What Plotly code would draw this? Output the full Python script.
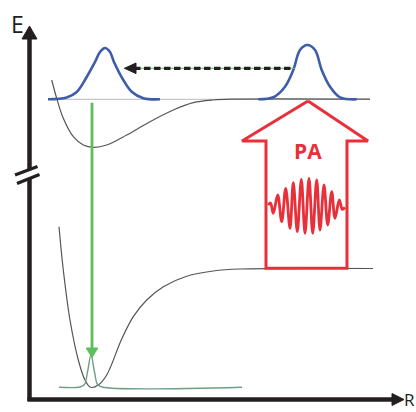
import plotly.graph_objects as go

# ---- data (pixel-space schematic coordinates) ----
upper_pot_x = [51.7, 56.7, 63.3, 73.3, 83.3, 93.3, 106.7, 126.7, 150, 173.3, 193.3, 213.3, 230, 370]
upper_pot_y = [80, 98.3, 118.3, 136.7, 145, 147.3, 145, 135, 121.7, 110, 102.7, 100, 99.2, 99.2]

lower_pot_x = [59, 63.3, 70, 78.3, 85, 90.7, 98.3, 106.7, 121.7, 133.3, 146.7, 163.3, 186.7, 213.3, 240, 373]
lower_pot_y = [226.7, 270, 320, 360, 380, 387.3, 385, 375, 339, 316.7, 300, 286.7, 276.2, 271, 269, 268.5]

upper_level_x = [48, 370]
upper_level_y = [99.3, 99.3]

blue_left_x = [48, 66.7, 76.7, 86.7, 95, 100, 105, 110, 114, 123.3, 131.7, 143.3, 160]
blue_left_y = [99.3, 97.5, 92, 77, 62, 52, 48, 52, 62, 80, 91.7, 98.2, 99.3]

blue_right_x = [258.3, 273.3, 285, 293.3, 300, 307.3, 315, 321.7, 330, 340, 356.7]
blue_right_y = [99.3, 97.3, 86.7, 70, 50, 45, 50, 70, 86.7, 97.3, 99.3]

ground_x = [59, 80, 84.5, 87.5, 91, 94.5, 97.5, 102, 242]
ground_y = [387.2, 387, 384.5, 372, 355, 372, 384.5, 387, 387.2]

wave_x = [268, 270.5, 273.3, 277.7, 281.7, 285.7, 290, 293.3, 297.3, 301.3, 305, 309,
          312.7, 316.7, 320, 324, 327.7, 331.7, 335, 339.3, 342.3, 345]
wave_y = [205, 203, 213.3, 195, 221.7, 188.3, 228.3, 182.7, 231.7, 179.3, 233.3, 178.3,
          233.3, 180, 230, 185, 225, 191.7, 218.3, 200, 209.3, 207.3]

pa_arrow_x = [308, 368, 347, 347, 266, 266, 242, 308]
pa_arrow_y = [101, 141, 141, 268.3, 268.3, 141, 141, 101]

dash_x = [134, 293]
dash_y = [68.3, 68.3]
dash_head_x = [124.5, 136, 136, 124.5]
dash_head_y = [68.3, 63, 73.6, 68.3]

green_x = [92, 92]
green_y = [102.7, 350]
green_head_x = [86.2, 97.8, 92, 86.2]
green_head_y = [348, 348, 357.5, 348]

yaxis_top_x = [29.5, 29.5]
yaxis_top_y = [37, 170]
yaxis_bot_x = [29.5, 29.5]
yaxis_bot_y = [178, 401]
yhead_x = [22, 37, 29.5, 22]
yhead_y = [39, 39, 26, 39]

xaxis_x = [27.5, 394]
xaxis_y = [399.5, 399.5]
xhead_x = [392, 392, 404, 392]
xhead_y = [393.5, 405.5, 399.5, 393.5]

break1_x = [15, 37.5]
break1_y = [175, 166.5]
break2_x = [17, 39.5]
break2_y = [183.5, 174.5]

labels = ["E", "R", "PA"]

AX = "#231f20"
GRAY = "#555555"
BLUE = "#3e5ca8"
RED = "#e8303a"
GREEN = "#5cbf5c"

fig = go.Figure()


def line(x, y, color, width, shape="linear", dash=None):
    fig.add_trace(go.Scatter(x=x, y=y, mode="lines",
                             line=dict(color=color, width=width, shape=shape, dash=dash),
                             hoverinfo="skip", showlegend=False))


def tri(x, y, color):
    fig.add_trace(go.Scatter(x=x, y=y, mode="lines", fill="toself", fillcolor=color,
                             line=dict(color=color, width=1), hoverinfo="skip",
                             showlegend=False))


# light level line
line(upper_level_x, upper_level_y, "#c8c8c8", 1.2)
line(upper_pot_x, upper_pot_y, GRAY, 1.2, "spline")
line(lower_pot_x, lower_pot_y, GRAY, 1.2, "spline")
line(ground_x, ground_y, "#6f9e86", 1.4, "spline")

# blue wavepackets
line(blue_left_x, blue_left_y, BLUE, 2.6, "spline")
line(blue_right_x, blue_right_y, BLUE, 2.6, "spline")

# dashed arrow
line([124, 295], dash_y, GREEN, 1)
line(dash_x, dash_y, AX, 3.2, dash="6.5px,3.5px")
tri(dash_head_x, dash_head_y, AX)

# green decay arrow
line(green_x, green_y, GREEN, 2.8)
tri(green_head_x, green_head_y, GREEN)

# PA arrow + light wave
line(pa_arrow_x, pa_arrow_y, RED, 3)
line(wave_x, wave_y, RED, 2.8, "spline")

# axes
line(yaxis_top_x, yaxis_top_y, AX, 4.5)
line(yaxis_bot_x, yaxis_bot_y, AX, 4.5)
tri(yhead_x, yhead_y, AX)
line(xaxis_x, xaxis_y, AX, 4.5)
tri(xhead_x, xhead_y, AX)
line(break1_x, break1_y, AX, 3.2)
line(break2_x, break2_y, AX, 3.2)

fig.add_annotation(x=17.5, y=23.5, text=labels[0], showarrow=False,
                   font=dict(family="Open Sans", size=23, color=AX))
fig.add_annotation(x=415.5, y=411.5, text=labels[1], showarrow=False, xanchor="right",
                   yanchor="bottom", borderpad=0,
                   font=dict(family="Open Sans", size=17, color=AX))
fig.add_annotation(x=307.5, y=150.5, text="<b>" + labels[2] + "</b>", showarrow=False,
                   font=dict(family="Open Sans", size=21, color=RED))

fig.update_layout(width=416, height=412, autosize=False,
                  margin=dict(l=0, r=0, t=0, b=0),
                  paper_bgcolor="white", plot_bgcolor="white",
                  xaxis=dict(range=[0, 416], visible=False, fixedrange=True),
                  yaxis=dict(range=[412, 0], visible=False, fixedrange=True))

fig.write_html("out.html", config={"displayModeBar": False},
               post_script="document.body.style.margin='0';")
